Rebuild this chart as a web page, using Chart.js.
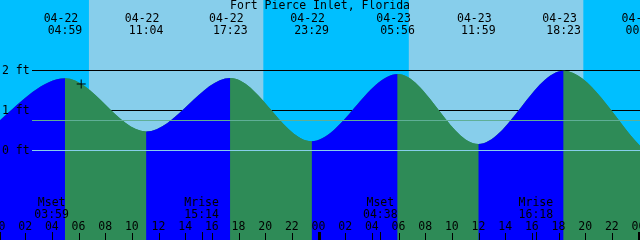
<!DOCTYPE html>
<html>
<head>
<meta charset="utf-8">
<script src="https://cdn.jsdelivr.net/npm/chart.js@4.4.0/dist/chart.umd.min.js"></script>
<style>
  html, body { margin: 0; padding: 0; background: #fff; }
  #wrap { width: 640px; height: 240px; }
</style>
</head>
<body>
<div id="wrap"><canvas id="tideChart" width="640" height="240"></canvas></div>
<script>
// hours are counted from 04-22 00:00
const tideHours = [-1.2, 4.983, 11.067, 17.383, 23.483, 29.933, 35.983, 42.383, 48.33];
const tideHeights = [0.40, 1.78, 0.46, 1.79, 0.22, 1.89, 0.15, 1.97, 0.03];
const tideDates = ["04-21", "04-22", "04-22", "04-22", "04-22", "04-23", "04-23", "04-23", "04-24"];
const tideTimes = ["22:48", "04:59", "11:04", "17:23", "23:29", "05:56", "11:59", "18:23", "00:20"];

const sunriseHours = [6.78, 30.77];
const sunsetHours = [19.86, 43.86];

const moonHours = [3.983, 15.233, 28.633, 40.3];
const moonEvents = ["Mset", "Mrise", "Mset", "Mrise"];
const moonTimes = ["03:59", "15:14", "04:38", "16:18"];

const hourTicks = [0, 2, 4, 6, 8, 10, 12, 14, 16, 18, 20, 22, 24, 26, 28, 30, 32, 34, 36, 38, 40, 42, 44, 46, 48];
const hourLabels = ["00", "02", "04", "06", "08", "10", "12", "14", "16", "18", "20", "22",
                    "00", "02", "04", "06", "08", "10", "12", "14", "16", "18", "20", "22", "00"];
const midnightHours = [0, 24, 48];

const levelTicks = [2, 1, 0];
const levelLabels = ["2 ft", "1 ft", "0 ft"];
const meanLevel = 0.74;

const nowHour = 6.2;
const nowHeight = 1.64;

const title = "Fort Pierce Inlet, Florida";

const FONT = '11.5px "DejaVu Sans Mono", monospace';
const NIGHT = "#00BFFF";
const DAY = "#87CEEB";
const RISING = "#0000FF";
const FALLING = "#2E8B57";

// backgrounds, labels and ticks drawn through the chart's scales
const tideDecor = {
  id: "tideDecor",
  beforeDatasetsDraw(chart) {
    const { ctx, chartArea: a, scales: { x, y } } = chart;
    ctx.save();
    ctx.fillStyle = NIGHT;
    ctx.fillRect(a.left, a.top, a.width, a.height);
    ctx.fillStyle = DAY;
    sunriseHours.forEach((h, i) => {
      const x0 = x.getPixelForValue(h);
      const x1 = x.getPixelForValue(sunsetHours[i]);
      ctx.fillRect(x0, a.top, x1 - x0, a.height);
    });
    // height lines sit behind the water
    ctx.strokeStyle = "#000";
    ctx.lineWidth = 1;
    levelTicks.filter(v => v > 0).forEach(v => {
      const py = Math.round(y.getPixelForValue(v)) + 0.5;
      ctx.beginPath();
      ctx.moveTo(32, py);
      ctx.lineTo(a.right, py);
      ctx.stroke();
    });
    ctx.restore();
  },
  afterDatasetsDraw(chart) {
    const { ctx, chartArea: a, scales: { x, y } } = chart;
    ctx.save();

    // datum and mean level lines over the water
    [[meanLevel, "#5FAF96"], [0, DAY]].forEach(([v, col]) => {
      const py = Math.round(y.getPixelForValue(v)) + 0.5;
      ctx.strokeStyle = col;
      ctx.beginPath();
      ctx.moveTo(32, py);
      ctx.lineTo(a.right, py);
      ctx.stroke();
    });

    ctx.fillStyle = "#000";
    ctx.font = FONT;
    ctx.textBaseline = "alphabetic";

    ctx.textAlign = "center";
    ctx.fillText(title, 320, 9);

    tideHours.forEach((h, i) => {
      const px = x.getPixelForValue(h);
      ctx.fillText(tideDates[i], px - 4, 22);
      ctx.fillText(tideTimes[i], px, 34);
    });

    moonHours.forEach((h, i) => {
      const px = x.getPixelForValue(h);
      ctx.fillText(moonEvents[i], px, 206);
      ctx.fillText(moonTimes[i], px, 218);
      ctx.fillRect(Math.round(px), 232, 1, 8);
    });

    hourTicks.forEach((h, i) => {
      const px = x.getPixelForValue(h);
      ctx.fillText(hourLabels[i], px, 230);
      ctx.fillRect(Math.round(px), 233, 1, 7);
    });
    midnightHours.forEach(h => {
      const px = x.getPixelForValue(h);
      ctx.fillRect(Math.round(px) - 1, 232, 3, 8);
    });

    ctx.textAlign = "left";
    levelTicks.forEach((v, i) => {
      const py = y.getPixelForValue(v);
      ctx.fillText(levelLabels[i], 2, py + 4);
    });

    ctx.restore();
  }
};

const tidePoints = tideHours.map((h, i) => ({ x: h, y: tideHeights[i] }));

const ctx = document.getElementById("tideChart").getContext("2d");

new Chart(ctx, {
  type: "line",
  data: {
    datasets: [
      {
        // current time marker
        data: [{ x: nowHour, y: nowHeight }],
        showLine: false,
        fill: false,
        pointStyle: "cross",
        pointRadius: 4.5,
        borderColor: "#000",
        borderWidth: 1,
        order: 0
      },
      {
        // rising water blue, falling water green
        data: tidePoints,
        fill: "start",
        cubicInterpolationMode: "monotone",
        borderColor: "rgba(0,0,0,0)",
        borderWidth: 0,
        pointRadius: 0,
        backgroundColor: FALLING,
        segment: {
          backgroundColor: c => (c.p1.parsed.y > c.p0.parsed.y ? RISING : FALLING)
        },
        order: 1
      },
      {
        // solid backing so the segment joins show no seam
        data: tidePoints,
        fill: "start",
        cubicInterpolationMode: "monotone",
        borderColor: "rgba(0,0,0,0)",
        borderWidth: 0,
        pointRadius: 0,
        backgroundColor: FALLING,
        order: 2
      }
    ]
  },
  options: {
    responsive: false,
    animation: false,
    events: [],
    layout: { padding: 0, autoPadding: false },
    plugins: {
      legend: { display: false },
      tooltip: { enabled: false }
    },
    scales: {
      x: { type: "linear", min: 0.11, max: 48.11, display: false },
      y: { min: -2.236, max: 3.727, display: false }
    }
  },
  plugins: [tideDecor]
});
</script>
</body>
</html>
